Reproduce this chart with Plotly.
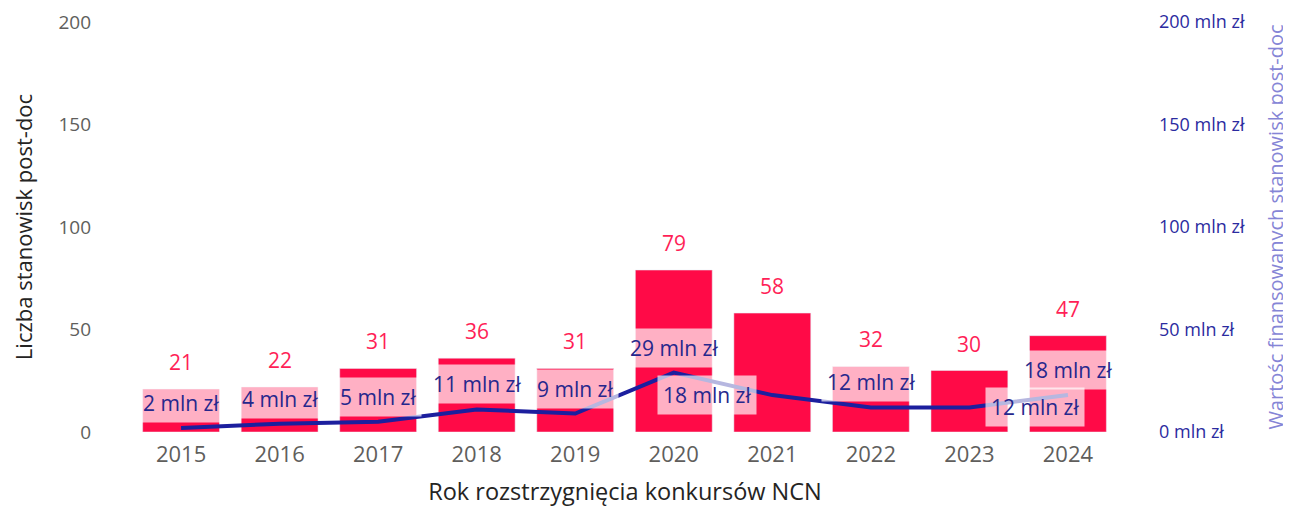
import plotly.graph_objects as go

years = [2015, 2016, 2017, 2018, 2019, 2020, 2021, 2022, 2023, 2024]
positions = [21, 22, 31, 36, 31, 79, 58, 32, 30, 47]
funding_mln = [2, 4, 5, 11, 9, 29, 18, 12, 12, 18]
y_ticks = [0, 50, 100, 150, 200]
y2_ticks = [0, 50, 100, 150, 200]
y2_tick_labels = ["0 mln zł", "50 mln zł", "100 mln zł", "150 mln zł", "200 mln zł"]

FONT = "Open Sans"
RED = "#FF0A47"
NAVY = "#1C1F9E"

fig = go.Figure()
fig.add_trace(go.Bar(x=years, y=positions, marker_color=RED, yaxis="y", name="Liczba"))
fig.add_trace(go.Scatter(x=years, y=funding_mln, mode="lines", yaxis="y2",
                         line=dict(color=NAVY, width=4), name="Wartość"))

annotations = []
for yr, v in zip(years, positions):
    annotations.append(dict(x=yr, y=v, xref="x", yref="y", text=str(v), showarrow=False,
                            yanchor="middle", yshift=27,
                            font=dict(family=FONT, size=21, color="#FF1F57")))

# label placement tweaks (collision avoidance, as in the reference)
shift = {2021: (-65, 0), 2023: (66, 0)}
for yr, v in zip(years, funding_mln):
    xs, ys = shift.get(yr, (0, 25))
    annotations.append(dict(x=yr, y=v, xref="x", yref="y2", text=f"{v} mln zł", showarrow=False,
                            yanchor="middle", xshift=xs, yshift=ys,
                            bgcolor="rgba(255,255,255,0.68)", borderpad=5,
                            font=dict(family=FONT, size=21, color="#26278C")))

fig.update_layout(
    width=1291, height=507,
    margin=dict(l=84, r=141, t=14, b=83),
    paper_bgcolor="white", plot_bgcolor="white",
    showlegend=False, bargap=0.22,
    font=dict(family=FONT),
    xaxis=dict(type="linear", range=[years[0] - 0.904, years[-1] + 0.914], tickvals=years,
               showgrid=False, showline=False, zeroline=False,
               ticks="outside", ticklen=3, tickcolor="rgba(0,0,0,0)", automargin=False,
               tickfont=dict(family=FONT, size=22, color="#605E5C"),
               title=dict(text="Rok rozstrzygnięcia konkursów NCN",
                          font=dict(family=FONT, size=23.5, color="#252423"), standoff=16)),
    yaxis=dict(range=[0, 200], tickvals=y_ticks, showgrid=False, zeroline=False,
               showline=False, ticks="", automargin=False,
               tickfont=dict(family=FONT, size=19, color="#605E5C"),
               title=dict(text="Liczba stanowisk post-doc",
                          font=dict(family=FONT, size=22, color="#252423"), standoff=20)),
    yaxis2=dict(range=[0, 200], overlaying="y", side="right", tickvals=y2_ticks,
                ticktext=y2_tick_labels, showgrid=False, zeroline=False, showline=False,
                ticks="", automargin=False,
                tickfont=dict(family=FONT, size=18, color="#2B2BA0"),
                title=dict(text="Wartośc finansowanych stanowisk post-doc",
                           font=dict(family=FONT, size=20, color="#8585D6"), standoff=25)),
    annotations=annotations,
)

fig.write_html("out.html")
